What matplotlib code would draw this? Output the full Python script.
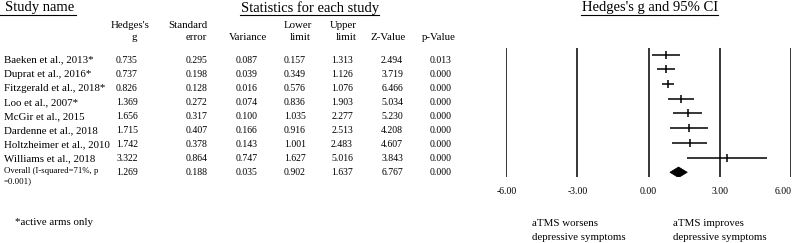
import matplotlib
matplotlib.use('Agg')
import matplotlib.pyplot as plt
from matplotlib.patches import Polygon

plt.rcParams['font.family'] = ['Liberation Serif', 'DejaVu Serif']

# data
studies = ['Baeken et al., 2013*', 'Duprat et al., 2016*', 'Fitzgerald et al., 2018*',
           'Loo et al., 2007*', 'McGir et al., 2015', 'Dardenne et al., 2018',
           'Holtzheimer et al., 2010', 'Williams et al., 2018']
hedges_g = [0.735, 0.737, 0.826, 1.369, 1.656, 1.715, 1.742, 3.322]
std_err = [0.295, 0.198, 0.128, 0.272, 0.317, 0.407, 0.378, 0.864]
variance = [0.087, 0.039, 0.016, 0.074, 0.100, 0.166, 0.143, 0.747]
lower = [0.157, 0.349, 0.576, 0.836, 1.035, 0.916, 1.001, 1.627]
upper = [1.313, 1.126, 1.076, 1.903, 2.277, 2.513, 2.483, 5.016]
z_val = [2.494, 3.719, 6.466, 5.034, 5.230, 4.208, 4.607, 3.843]
p_val = [0.013, 0.000, 0.000, 0.000, 0.000, 0.000, 0.000, 0.000]

overall = {'g': 1.269, 'se': 0.188, 'var': 0.035, 'lo': 0.902, 'hi': 1.637, 'z': 6.767, 'p': 0.000}
xticks = [-6, -3, 0, 3, 6]

W, H = 795, 243
fig = plt.figure(figsize=(W / 100, H / 100), dpi=100)

# text layer in pixel coords
ax = fig.add_axes([0, 0, 1, 1])
ax.set_xlim(0, W)
ax.set_ylim(H, 0)
ax.axis('off')

title_fs = 10.5
fs = 7.8
num_fs = 7.0
hdr_fs = 7.8

ax.text(5, 8, 'Study name', fontsize=title_fs, va='center', ha='left')
ax.plot([0, 76], [15, 15], color='black', lw=0.8)
ax.text(310, 8, 'Statistics for each study', fontsize=title_fs, va='center', ha='center')
ax.plot([240, 379], [15, 15], color='black', lw=0.8)
ax.text(650, 8, "Hedges's g and 95% CI", fontsize=title_fs, va='center', ha='center')
ax.plot([581, 718], [15, 15], color='black', lw=0.8)

# column headers
hdr = [("Hedges's", 130, 25), ('g', 134, 38), ('Standard', 188, 25), ('error', 196, 38),
       ('Variance', 248, 38), ('Lower', 298, 25), ('limit', 300, 37),
       ('Upper', 343, 25), ('limit', 346, 37), ('Z-Value', 388, 38), ('p-Value', 439, 38)]
for t, x, y in hdr:
    ax.text(x, y, t, fontsize=hdr_fs, ha='center', va='center')

cols = [127, 197, 247, 295, 342, 392, 441]
row0, dy = 60, 14.1
for i, name in enumerate(studies):
    y = row0 + i * dy
    ax.text(4, y, name, fontsize=fs, va='center', ha='left')
    vals = [hedges_g[i], std_err[i], variance[i], lower[i], upper[i], z_val[i], p_val[i]]
    for x, v in zip(cols, vals):
        ax.text(x, y, f'{v:.3f}', fontsize=num_fs, va='center', ha='center')

y = row0 + len(studies) * dy
ax.text(4, y - 1.5, 'Overall (I-squared=71%, p', fontsize=6.3, va='center', ha='left')
ax.text(4, y + 8.5, '=0.001)', fontsize=6.3, va='center', ha='left')
ov_vals = [overall['g'], overall['se'], overall['var'], overall['lo'], overall['hi'], overall['z'], overall['p']]
for x, v in zip(cols, ov_vals):
    ax.text(x, y, f'{v:.3f}', fontsize=num_fs, va='center', ha='center')

ax.text(15, 222, '*active arms only', fontsize=fs, va='center', ha='left')
ax.text(532, 223, 'aTMS worsens', fontsize=fs, va='center', ha='left')
ax.text(532, 237, 'depressive symptoms', fontsize=fs, va='center', ha='left')
ax.text(673, 223, 'aTMS improves', fontsize=fs, va='center', ha='left')
ax.text(673, 237, 'depressive symptoms', fontsize=fs, va='center', ha='left')

# forest plot
x0, x1 = 506.3, 790.7
ytop, ybot = 48.3, 176.7
fax = fig.add_axes([x0 / W, 1 - ybot / H, (x1 - x0) / W, (ybot - ytop) / H])
fax.set_xlim(-6, 6)
fax.set_ylim(8.3, -0.435)
fax.axis('off')
for t in xticks:
    fax.axvline(t, color='black', lw=1.1)
    xp = x0 + (t + 6) / 12 * (x1 - x0)
    xp = min(xp, 783)
    ax.text(xp, 191, f'{t:.2f}', fontsize=num_fs, ha='center', va='center')

for i in range(len(studies)):
    fax.plot([lower[i], upper[i]], [i, i], color='black', lw=1.1, solid_capstyle='butt')
    fax.plot(hedges_g[i], i, marker='|', color='black', markersize=6, mew=1.1)

n = len(studies)
h = 0.36
diamond = Polygon([(overall['lo'], n), (overall['g'], n - h), (overall['hi'], n), (overall['g'], n + h)],
                  closed=True, facecolor='black', edgecolor='black', lw=0.5)
fax.add_patch(diamond)

fig.savefig('out.png', dpi=100)
